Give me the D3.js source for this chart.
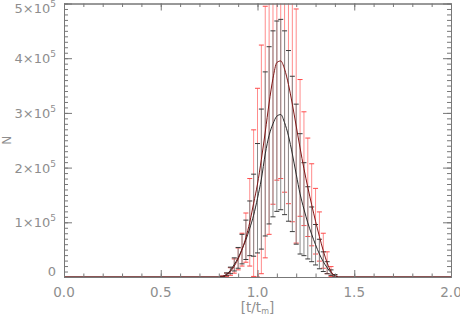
<!DOCTYPE html>
<html>
<head>
<meta charset="utf-8">
<script src="https://cdn.jsdelivr.net/npm/d3@7"></script>
<style>
  body { margin: 0; background: #fff; }
  svg { display: block; }
  text { font-family: "DejaVu Sans", sans-serif; fill: #8e8e8e; }
</style>
</head>
<body>
<div id="chart"></div>
<script>
// sample times (t/tm), same grid for both runs
var tVals = [0.00, 0.80, 0.82, 0.84, 0.86, 0.88, 0.90, 0.92, 0.94, 0.96, 0.98,
             1.00, 1.02, 1.04, 1.06, 1.08, 1.10, 1.12, 1.14, 1.16, 1.18,
             1.20, 1.22, 1.24, 1.26, 1.28, 1.30, 1.32, 1.34, 1.36, 1.38,
             1.40, 1.42, 2.00];
// red run: mean N (thousands) and error half-width (thousands)
var redN   = [0, 0, 1, 4, 10, 20, 33, 50, 72, 100, 135,
              170, 215, 265, 318, 363, 392, 395, 380, 352, 316,
              276, 236, 198, 164, 132, 102, 74, 48, 26, 10,
              2, 0, 0];
var redErr = [0, 0, 1, 3, 7, 13, 20, 30, 45, 80, 134,
              175, 209, 230, 240, 230, 215, 215, 225, 218, 215,
              214, 125, 104, 90, 75, 60, 45, 32, 20, 9,
              2, 0, 0];
// black run
var blkN   = [0, 0, 1, 5, 12, 23, 35, 51, 68, 89, 113,
              144, 179, 225, 259, 280, 294, 297, 282, 258, 225,
              188, 152, 124, 99, 78, 59, 42, 28, 17, 8,
              3, 0, 0];
var blkErr = [0, 0, 0.5, 2.5, 6, 12, 19, 27, 36, 50, 75,
              100, 128, 150, 162, 170, 174, 174, 168, 156, 142,
              128, 110, 85, 66, 50, 37, 27, 18, 11, 5,
              1.5, 0, 0];
var xMajor = [0.0, 0.5, 1.0, 1.5, 2.0];
var yMajor = [0, 1, 2, 3, 4, 5];   // x10^5

var svgWidth = 460, svgHeight = 316;
var margin = {top: 3.5, right: 9, bottom: 39, left: 64};
var W = svgWidth - margin.left - margin.right;
var H = svgHeight - margin.top - margin.bottom;

var svg = d3.select("#chart").append("svg")
    .attr("width", svgWidth).attr("height", svgHeight);
var g = svg.append("g").attr("transform", `translate(${margin.left},${margin.top})`);

var x = d3.scaleLinear().domain([0, 2]).range([0, W]);
var y = d3.scaleLinear().domain([0, 5e5]).range([H, 0]);

g.append("clipPath").attr("id", "clip")
  .append("rect").attr("x", 0).attr("y", 0).attr("width", W).attr("height", H);

var rows = tVals.map(function(t, i) {
    return {t: t, rn: redN[i] * 1000, re: redErr[i] * 1000,
            bn: blkN[i] * 1000, be: blkErr[i] * 1000};
});
var barRows = rows.filter(d => d.rn > 0 || d.bn > 0);

var plot = g.append("g").attr("clip-path", "url(#clip)");

// error bars
function drawBars(cls, val, err, lineCol, capCol) {
    var grp = plot.append("g").attr("class", cls);
    var sel = grp.selectAll("g").data(barRows.filter(d => err(d) > 0)).enter().append("g");
    sel.append("line")
        .attr("x1", d => x(d.t)).attr("x2", d => x(d.t))
        .attr("y1", d => y(Math.max(0, val(d) - err(d))))
        .attr("y2", d => y(val(d) + err(d)))
        .attr("stroke", lineCol).attr("stroke-width", 1);
    [1, -1].forEach(function(s) {
        sel.append("line")
            .attr("x1", d => x(d.t) - 2.5).attr("x2", d => x(d.t) + 2.5)
            .attr("y1", d => y(Math.max(0, val(d) + s * err(d))))
            .attr("y2", d => y(Math.max(0, val(d) + s * err(d))))
            .attr("stroke", capCol).attr("stroke-width", 1);
    });
}
drawBars("red-bars", d => d.rn, d => d.re, "#ff8c8c", "#ff4a4a");
drawBars("blk-bars", d => d.bn, d => d.be, "#8a8a8a", "#3a3a3a");

// curves
var lineRed = d3.line().x(d => x(d.t)).y(d => y(d.rn)).curve(d3.curveMonotoneX);
var lineBlk = d3.line().x(d => x(d.t)).y(d => y(d.bn)).curve(d3.curveMonotoneX);
plot.append("path").attr("d", lineBlk(rows))
    .attr("fill", "none").attr("stroke", "#2a2a2a").attr("stroke-width", 1);
plot.append("path").attr("d", lineRed(rows))
    .attr("fill", "none").attr("stroke", "#801515").attr("stroke-width", 1);

// axes (ticks inward on all four sides)
var axisCol = "#777";
function styleAxis(sel) {
    sel.select(".domain").attr("stroke", axisCol);
    sel.selectAll(".tick line").attr("stroke", axisCol);
    sel.selectAll("text").remove();
}
var xMinor = d3.range(0, 21).map(d => d / 10);
var yMinor = d3.range(0, 51).map(d => d * 1e4);

g.append("g").attr("transform", `translate(0,${H})`)
    .call(d3.axisBottom(x).tickValues(xMinor).tickSize(-3.5).tickSizeOuter(0)).call(styleAxis);
g.append("g").attr("transform", `translate(0,${H})`)
    .call(d3.axisBottom(x).tickValues(xMajor).tickSize(-7).tickSizeOuter(0)).call(styleAxis);
g.append("g")
    .call(d3.axisTop(x).tickValues(xMinor).tickSize(-3.5).tickSizeOuter(0)).call(styleAxis);
g.append("g")
    .call(d3.axisTop(x).tickValues(xMajor).tickSize(-7).tickSizeOuter(0)).call(styleAxis);
g.append("g")
    .call(d3.axisLeft(y).tickValues(yMinor).tickSize(-4).tickSizeOuter(0)).call(styleAxis);
g.append("g")
    .call(d3.axisLeft(y).tickValues(yMajor.map(v => v * 1e5)).tickSize(-8).tickSizeOuter(0)).call(styleAxis);
g.append("g").attr("transform", `translate(${W},0)`)
    .call(d3.axisRight(y).tickValues(yMinor).tickSize(-4).tickSizeOuter(0)).call(styleAxis);
g.append("g").attr("transform", `translate(${W},0)`)
    .call(d3.axisRight(y).tickValues(yMajor.map(v => v * 1e5)).tickSize(-8).tickSizeOuter(0)).call(styleAxis);

// x tick labels
g.selectAll(".xlab").data(xMajor).enter().append("text")
    .attr("x", d => x(d)).attr("y", H + 20)
    .attr("text-anchor", "middle").attr("font-size", 13.5)
    .text(d => d.toFixed(1));

// y tick labels
var ylab = g.selectAll(".ylab").data(yMajor).enter().append("text")
    .attr("x", -8)
    .attr("y", d => Math.min(H - 1, Math.max(9, y(d * 1e5) + 5)))
    .attr("text-anchor", "end").attr("font-size", 13);
ylab.each(function(d) {
    var t = d3.select(this);
    if (d === 0) { t.text("0"); return; }
    t.append("tspan").text(d + "\u00d710");
    t.append("tspan").attr("dy", -6).attr("font-size", 9).text("5");
});

// axis titles
var xt = g.append("text").attr("x", W / 2).attr("y", H + 35)
    .attr("text-anchor", "middle").attr("font-size", 13.5);
xt.append("tspan").text("[t/t");
xt.append("tspan").attr("font-size", 8).attr("dy", 2).text("m");
xt.append("tspan").attr("dy", -2).text("]");

g.append("text")
    .attr("transform", `translate(${-margin.left + 11},${y(2.5e5)}) rotate(-90)`)
    .attr("text-anchor", "middle").attr("font-size", 12)
    .text("N");
</script>
</body>
</html>
